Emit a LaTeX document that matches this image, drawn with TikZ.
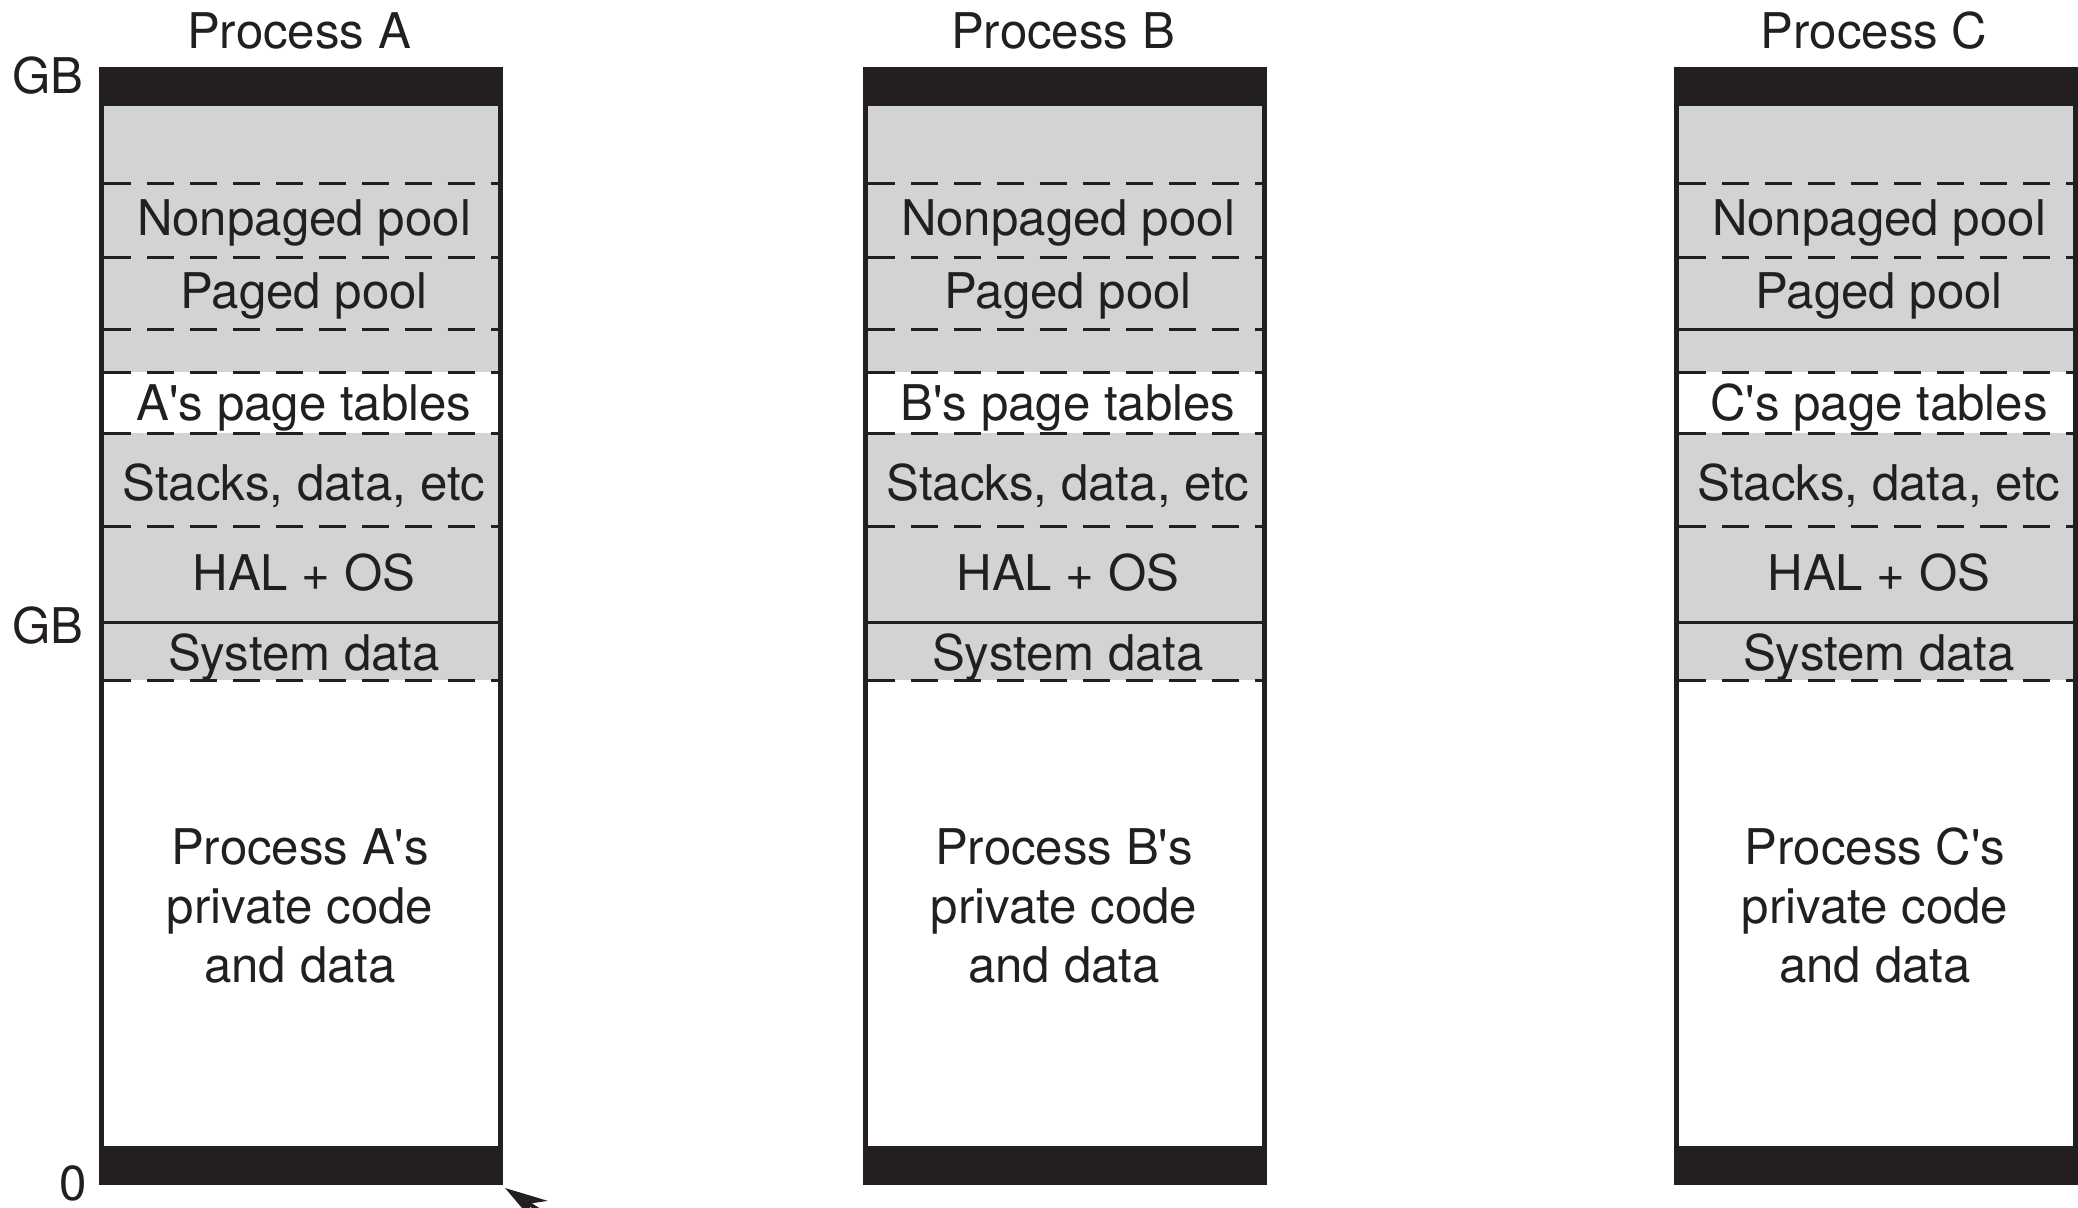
\documentclass[tikz,border=0pt]{standalone}
\usepackage{fontspec}
\newfontfamily\heros{TeX Gyre Heros}
\usetikzlibrary{arrows.meta}
\definecolor{inkblack}{HTML}{231F20}
\definecolor{poolgray}{HTML}{D1D3D4}
\begin{document}
\begin{tikzpicture}[x=0.02cm,y=-0.02cm,line join=miter,
	memtext/.style={inner sep=0pt,anchor=base,font=\heros\fontsize{28}{33.5}\selectfont,text=inkblack},
	border/.style={draw=inkblack,line width=0.1cm},
	divider/.style={draw=inkblack,line width=0.06cm},
	dashdiv/.style={divider,dash pattern=on 0.54cm off 0.32cm}]
\clip (0,0) rectangle (2078,1207);
% address marks on the left
\node[memtext,anchor=base east] (gbtop) at (84,93) {GB};
\node[memtext,anchor=base east] (gbmid) at (84,643) {GB};
\node[memtext] (zero) at (73,1200) {0};
% one column per process
\foreach \l/\proc/\pagedline in {99/A/dashdiv,863/B/dashdiv,1674/C/divider}{
	\fill[poolgray] (\l,106) rectangle (\l+404,372);
	\fill[poolgray] (\l,433) rectangle (\l+404,680);
	\draw[dashdiv] (\l+5,183) -- (\l+399,183);
	\draw[dashdiv] (\l+5,257) -- (\l+399,257);
	\draw[\pagedline] (\l+5,329) -- (\l+399,329);
	\draw[dashdiv] (\l+5,372) -- (\l+399,372);
	\draw[dashdiv] (\l+5,433) -- (\l+399,433);
	\draw[dashdiv] (\l+5,526) -- (\l+399,526);
	\draw[divider] (\l+5,622) -- (\l+399,622);
	\draw[dashdiv] (\l+5,680) -- (\l+399,680);
	\draw[border] (\l+2.5,69) rectangle (\l+401.5,1182);
	\fill[inkblack] (\l,69) rectangle (\l+404,106);
	\fill[inkblack] (\l,1146) rectangle (\l+404,1182);
	\node[memtext] (title\proc) at (\l+200,48) {Process \proc};
	\node[memtext] (npool\proc) at (\l+205,235) {Nonpaged pool};
	\node[memtext] (ppool\proc) at (\l+205,308) {Paged pool};
	\node[memtext] (ptab\proc) at (\l+205,420) {\proc's page tables};
	\node[memtext] (stack\proc) at (\l+205,500) {Stacks, data, etc};
	\node[memtext] (hal\proc) at (\l+205,590) {HAL + OS};
	\node[memtext] (sysd\proc) at (\l+205,670) {System data};
	\node[memtext,align=center] (priv\proc) at (\l+201,982) {Process \proc's\\private code\\and data};
}
% arrow running in from below
\coordinate (cornerA) at (505,1188);
\coordinate (tailA) at (612,1258);
\draw[inkblack,line width=0.08cm,-{Stealth[length=0.85cm,width=0.5cm]}] (tailA) -- (cornerA);
\end{tikzpicture}
\end{document}
